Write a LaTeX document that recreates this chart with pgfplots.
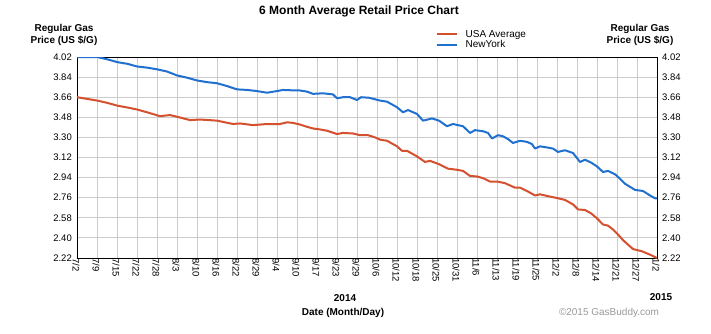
\documentclass[border=0pt]{standalone}
\usepackage{pgfplots}
\pgfplotsset{compat=1.18}
\usepackage{fontspec}
\setmainfont{Liberation Sans}
\definecolor{usared}{RGB}{212,80,46}
\definecolor{nyblue}{RGB}{32,112,208}
\definecolor{gridgray}{RGB}{204,204,204}
\begin{document}
\begin{tikzpicture}
\path[use as bounding box, fill=white] (0pt,0pt) rectangle (711pt,-334pt);
\begin{axis}[
  at={(77pt,-258pt)}, anchor=south west,
  scale only axis, width=580pt, height=201pt,
  xmin=0, xmax=29, ymin=2.22, ymax=4.02,
  xtick={0,...,29},
  xticklabels={7/2,7/9,7/15,7/22,7/28,8/3,8/10,8/16,8/22,8/29,9/4,9/10,9/17,9/23,9/29,10/6,10/12,10/18,10/25,10/31,11/6,11/13,11/19,11/25,12/2,12/8,12/14,12/21,12/27,1/2},
  ytick={2.22,2.40,2.58,2.76,2.94,3.12,3.30,3.48,3.66,3.84,4.02},
  yticklabels={2.22,2.40,2.58,2.76,2.94,3.12,3.30,3.48,3.66,3.84,4.02},
  yticklabel pos=left,
  major tick length=0pt,
  grid=major,
  major grid style={gridgray, line width=0.9pt},
  axis line style={black, line width=1pt},
  tick label style={font=\fontsize{9.5}{11}\selectfont},
  xticklabel style={rotate=-90, anchor=west, inner sep=0pt, yshift=-1pt, xshift=0pt},
  yticklabel style={inner sep=0pt, xshift=-5pt},
  /pgf/number format/assume math mode=true,
  legend style={at={(0.618,1.14)}, anchor=north west, draw=none, fill=none,
    font=\fontsize{10}{11}\selectfont, row sep=0pt, column sep=7pt, inner sep=0pt,
    nodes={inner sep=1pt, text height=7pt, text depth=1.5pt}},
  legend cell align=left,
  legend image code/.code={\draw[#1] (0pt,0pt) -- (20pt,0pt);},
]
\addplot[usared, line width=2pt, line join=round] coordinates {
(0,3.66)(0.5,3.645)(1.0,3.63)(1.5,3.61)(2.0,3.585)(2.3,3.575)(2.6,3.565)(3.0,3.55)(3.5,3.525)
(4.15,3.49)(4.65,3.50)(5.0,3.485)(5.65,3.455)(6.15,3.46)(6.6,3.455)(7.0,3.45)(7.4,3.435)
(7.8,3.42)(8.15,3.425)(8.8,3.41)(9.5,3.42)(10.15,3.42)(10.5,3.435)(10.8,3.43)(11.15,3.415)
(11.5,3.395)(11.8,3.38)(12.2,3.37)(12.5,3.36)(13.0,3.33)(13.3,3.34)(13.8,3.335)(14.15,3.32)
(14.55,3.32)(14.9,3.30)(15.15,3.28)(15.5,3.27)(16.0,3.22)(16.25,3.18)(16.5,3.18)(17.0,3.13)
(17.4,3.08)(17.65,3.09)(18.1,3.06)(18.55,3.02)(19.0,3.01)(19.3,3.00)(19.65,2.955)(20.0,2.95)
(20.3,2.935)(20.65,2.905)(21.0,2.905)(21.4,2.89)(21.9,2.85)(22.15,2.85)(22.5,2.82)(22.9,2.78)
(23.15,2.79)(23.65,2.77)(24.05,2.755)(24.4,2.74)(24.8,2.70)(25.05,2.655)(25.4,2.65)(25.7,2.62)
(26.0,2.575)(26.3,2.52)(26.55,2.51)(26.8,2.475)(27.0,2.44)(27.3,2.38)(27.55,2.34)(27.8,2.30)
(28.25,2.28)(28.65,2.25)(29.0,2.22)
};
\addlegendentry{USA Average}
\addplot[nyblue, line width=2pt, line join=round] coordinates {
(0,4.02)(0.5,4.02)(1.0,4.02)(1.5,4.00)(2.0,3.975)(2.3,3.965)(2.5,3.96)(3.0,3.935)(3.5,3.925)
(4.0,3.91)(4.5,3.89)(5.0,3.855)(5.5,3.835)(6.0,3.81)(6.5,3.795)(7.0,3.785)(7.5,3.76)(8.0,3.73)
(8.5,3.725)(9.0,3.715)(9.5,3.70)(10.0,3.715)(10.3,3.725)(10.7,3.722)(11.15,3.72)(11.5,3.71)
(11.8,3.69)(12.3,3.695)(12.8,3.685)(13.0,3.65)(13.3,3.66)(13.65,3.66)(14.0,3.635)(14.2,3.66)
(14.6,3.655)(15.15,3.63)(15.5,3.62)(15.7,3.60)(16.0,3.57)(16.3,3.525)(16.55,3.545)(17.0,3.51)
(17.3,3.45)(17.75,3.47)(18.1,3.45)(18.5,3.40)(18.8,3.42)(19.3,3.40)(19.65,3.34)(19.9,3.365)
(20.3,3.355)(20.55,3.34)(20.75,3.29)(21.05,3.32)(21.3,3.31)(21.55,3.285)(21.8,3.25)(22.15,3.27)
(22.5,3.26)(22.75,3.24)(22.9,3.20)(23.15,3.22)(23.5,3.21)(23.8,3.20)(24.05,3.17)(24.4,3.185)
(24.8,3.16)(25.15,3.08)(25.4,3.10)(25.7,3.075)(26.0,3.04)(26.3,2.99)(26.55,3.00)(26.9,2.97)
(27.15,2.93)(27.4,2.885)(27.9,2.83)(28.3,2.82)(28.65,2.78)(28.9,2.755)(29.0,2.755)
};
\addlegendentry{NewYork}
\end{axis}
\begin{axis}[
  at={(77pt,-258pt)}, anchor=south west,
  scale only axis, width=580pt, height=201pt,
  xmin=0, xmax=29, ymin=2.22, ymax=4.02,
  axis x line=none, axis y line*=right,
  ytick={2.22,2.40,2.58,2.76,2.94,3.12,3.30,3.48,3.66,3.84,4.02},
  yticklabels={2.22,2.40,2.58,2.76,2.94,3.12,3.30,3.48,3.66,3.84,4.02},
  major tick length=0pt,
  axis line style={black, line width=1pt},
  tick label style={font=\fontsize{9.5}{11}\selectfont},
  yticklabel style={inner sep=0pt, xshift=5pt},
  /pgf/number format/assume math mode=true,
]
\addplot[draw=none] coordinates {(0,3)};
\end{axis}
\node[font=\bfseries\fontsize{12}{14}\selectfont] at (359pt,-11pt) {6 Month Average Retail Price Chart};
\node[font=\bfseries\fontsize{10}{12.5}\selectfont, align=center] at (64pt,-35pt) {Regular Gas\\Price (US \$/G)};
\node[font=\bfseries\fontsize{10}{12.5}\selectfont, align=center] at (640pt,-35pt) {Regular Gas\\Price (US \$/G)};
\node[font=\bfseries\fontsize{10}{12}\selectfont] at (345pt,-298pt) {2014};
\node[font=\bfseries\fontsize{10}{12}\selectfont] at (661pt,-297pt) {2015};
\node[font=\bfseries\fontsize{10}{12}\selectfont] at (343pt,-313pt) {Date (Month/Day)};
\node[font=\fontsize{10}{12}\selectfont, text=black!40] at (609pt,-313pt) {©2015 GasBuddy.com};
\end{tikzpicture}
\end{document}
